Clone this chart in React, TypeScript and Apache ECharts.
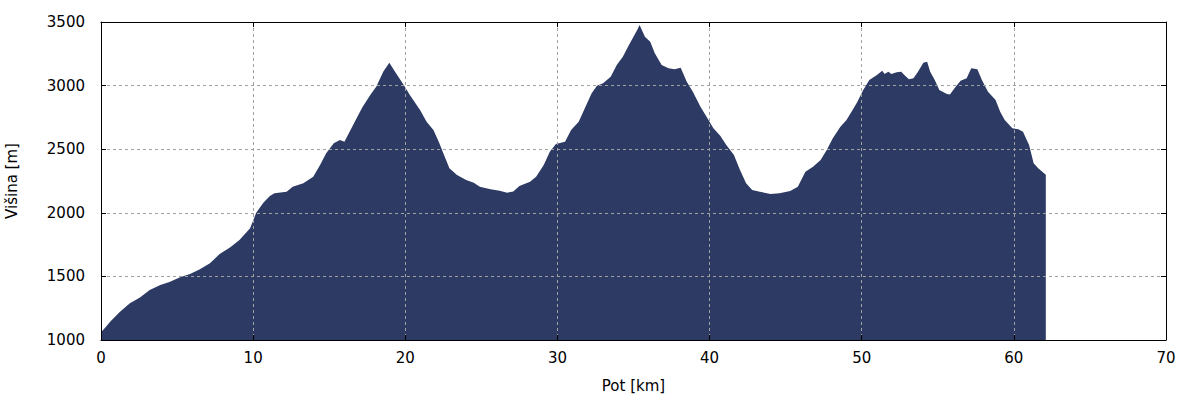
import React, { useEffect, useRef } from "react";
import * as echarts from "echarts";

const distanceKm = [
  0, 0.3, 0.6, 1.25, 1.9, 2.56, 3.2, 3.9, 4.5, 5.2, 5.85, 6.5, 7.16, 7.8, 8.5, 9.1, 9.8,
  10.2, 10.67, 11.1, 11.4, 12.2, 12.6, 13.3, 13.95, 14.4, 14.8, 15.3, 15.7, 16.0, 16.4,
  16.8, 17.2, 17.7, 18.1, 18.55, 18.95, 19.4, 19.9, 20.3, 20.97, 21.4, 21.85, 22.2, 22.5,
  22.9, 23.4, 24.0, 24.5, 24.9, 25.6, 26.2, 26.7, 27.1, 27.5, 28.2, 28.6, 29.1, 29.5,
  29.9, 30.5, 30.9, 31.4, 31.8, 32.25, 32.6, 33.0, 33.5, 33.9, 34.3, 34.7, 35.0, 35.25,
  35.4, 35.75, 36.1, 36.4, 36.85, 37.3, 37.7, 38.1, 38.5, 38.9, 39.4, 39.8, 40.25, 40.7,
  41.1, 41.6, 42.0, 42.4, 42.8, 43.3, 44.0, 44.6, 45.3, 45.8, 46.3, 46.8, 47.3, 47.7,
  48.1, 48.6, 49.0, 49.4, 49.7, 50.1, 50.5, 51.0, 51.35, 51.5, 51.75, 51.95, 52.3, 52.6,
  52.8, 53.1, 53.4, 53.7, 54.05, 54.3, 54.5, 54.8, 55.1, 55.6, 55.8, 56.1, 56.5, 56.9,
  57.2, 57.6, 57.9, 58.3, 58.8, 59.1, 59.4, 59.9, 60.3, 60.6, 61.0, 61.3, 61.6, 62.1,
];

const elevationM = [
  1060, 1100, 1144, 1222, 1288, 1335, 1393, 1432, 1456, 1493, 1519, 1556, 1603, 1676, 1729, 1786, 1878,
  2000, 2079, 2132, 2153, 2166, 2205, 2232, 2284, 2376, 2468, 2547, 2572, 2559, 2651,
  2743, 2834, 2926, 2992, 3109, 3180, 3096, 3005, 2926, 2808, 2716, 2651, 2559, 2468,
  2350, 2297, 2258, 2237, 2205, 2185, 2174, 2158, 2168, 2211, 2245, 2284, 2376, 2480,
  2541, 2559, 2651, 2716, 2821, 2939, 2999, 3018, 3070, 3162, 3227, 3319, 3384, 3440,
  3476, 3384, 3345, 3254, 3162, 3136, 3128, 3141, 3031, 2952, 2834, 2756, 2664, 2606,
  2533, 2454, 2337, 2232, 2179, 2166, 2148, 2153, 2171, 2205, 2323, 2363, 2415, 2494,
  2586, 2677, 2730, 2808, 2870, 2966, 3044, 3084, 3117, 3091, 3109, 3091, 3104, 3109,
  3084, 3050, 3057, 3109, 3180, 3188, 3109, 3044, 2966, 2934, 2931, 2979, 3039, 3057,
  3136, 3128, 3044, 2952, 2887, 2795, 2730, 2664, 2656, 2638, 2533, 2389, 2350, 2300,
];

const xLabel = "Pot [km]";
const yLabel = "Višina [m]";

export default function App() {
  const ref = useRef<HTMLDivElement>(null);

  useEffect(() => {
    if (!ref.current) return;
    const chart = echarts.init(ref.current, null, { renderer: "svg" });
    const font = "DejaVu Sans";
    const data = distanceKm.map((d, i) => [d, elevationM[i]]);
    const axisLine = { show: true, onZero: false, lineStyle: { color: "#000", width: 1 } };
    const tick = { show: true, inside: true, length: 5, lineStyle: { color: "#000" } };
    const split = { show: true, lineStyle: { color: "#a0a0a0", type: [3, 3] as any, width: 1 } };
    const plain = (v: number) => String(v);
    chart.setOption({
      animation: false,
      grid: {
        left: 101,
        right: 34,
        top: 22,
        bottom: 60,
        containLabel: false,
        outerBoundsMode: "none",
      },
      xAxis: [
        {
          type: "value",
          min: 0,
          max: 70,
          interval: 10,
          position: "bottom",
          name: xLabel,
          nameLocation: "middle",
          nameGap: 38,
          nameTextStyle: { fontFamily: font, fontSize: 15, color: "#000" },
          axisLine,
          axisTick: tick,
          axisLabel: { fontFamily: font, fontSize: 15, color: "#000", margin: 10, formatter: plain },
          splitLine: split,
          z: 5,
        },
        {
          type: "value",
          min: 0,
          max: 70,
          interval: 10,
          position: "top",
          axisLine,
          axisTick: tick,
          axisLabel: { show: false },
          splitLine: { show: false },
          z: 5,
        },
      ],
      yAxis: [
        {
          type: "value",
          min: 1000,
          max: 3500,
          interval: 500,
          position: "left",
          name: yLabel,
          nameLocation: "middle",
          nameGap: 82,
          nameTextStyle: { fontFamily: font, fontSize: 15, color: "#000" },
          axisLine,
          axisTick: tick,
          axisLabel: { fontFamily: font, fontSize: 15, color: "#000", margin: 16, formatter: plain },
          splitLine: split,
          z: 5,
        },
        {
          type: "value",
          min: 1000,
          max: 3500,
          interval: 500,
          position: "right",
          axisLine,
          axisTick: tick,
          axisLabel: { show: false },
          splitLine: { show: false },
          z: 5,
        },
      ],
      series: [
        {
          type: "line",
          data,
          xAxisIndex: 0,
          yAxisIndex: 0,
          symbol: "none",
          lineStyle: { width: 0, color: "#2c3a64" },
          areaStyle: { color: "#2c3a64", opacity: 1, origin: "start" },
          z: 2,
        },
      ],
    });
    return () => chart.dispose();
  }, []);

  return <div ref={ref} style={{ width: 1200, height: 400, position: "absolute", left: 0, top: 0 }} />;
}
